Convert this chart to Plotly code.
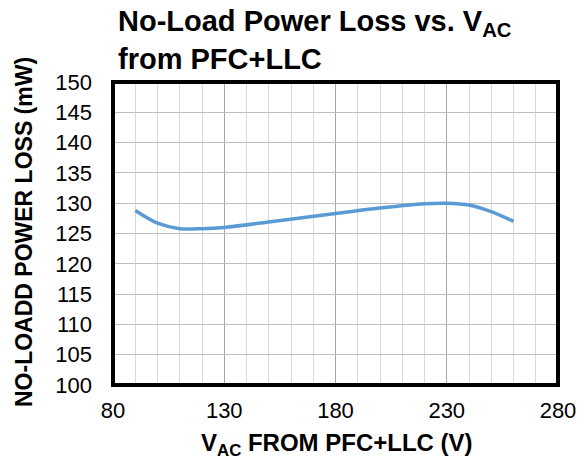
import plotly.graph_objects as go

vac = [90, 100, 110, 120, 130, 150, 180, 200, 220, 230, 240, 250, 260]
loss = [128.8, 126.7, 125.8, 125.8, 126.0, 126.9, 128.3, 129.2, 129.9, 130.0, 129.7, 128.6, 127.0]

x_ticks = [80, 130, 180, 230, 280]
y_ticks = list(range(100, 151, 5))

title_text = "<b>No-Load Power Loss vs. V<sub>AC</sub><br>from PFC+LLC</b>"
x_title = "<b>V<sub>AC</sub> FROM PFC+LLC (V)</b>"
y_title = "<b>NO-LOADD POWER LOSS (mW)</b>"

fig = go.Figure()
fig.add_trace(go.Scatter(x=vac, y=loss, mode="lines",
                         line=dict(color="#5B9BD5", width=3.5, shape="spline", smoothing=0.8),
                         showlegend=False, hoverinfo="skip"))

font = "Liberation Sans, Arial, sans-serif"
OFF = 8  # default page body margin
W, H = 584 - OFF, 462 - OFF
L, T = 113 - OFF, 82 - OFF
R, B = 584 - 558, 462 - 385
pw, ph = W - L - R, H - T - B


def px(xp):
    return (xp - OFF - L) / pw


def py(yp):
    return 1 - (yp - OFF - T) / ph


fig.update_layout(
    width=W, height=H,
    margin=dict(l=L, r=R, t=T, b=B, autoexpand=False),
    paper_bgcolor="white", plot_bgcolor="white",
    font=dict(family=font, color="black"),
    xaxis=dict(range=[80, 280], tickvals=x_ticks, ticks="", showline=False, zeroline=False,
               automargin=False,
               showgrid=True, gridcolor="#A6A6A6", gridwidth=1,
               minor=dict(dtick=10, tick0=80, showgrid=True, gridcolor="#D9D9D9", gridwidth=1),
               tickfont=dict(size=22), ticklabelstandoff=10),
    yaxis=dict(range=[100, 150], tickvals=y_ticks, ticks="", showline=False, zeroline=False,
               automargin=False,
               showgrid=True, gridcolor="#BFBFBF", gridwidth=1,
               tickfont=dict(size=22), ticklabelstandoff=20),
    shapes=[dict(type="rect", xref="paper", yref="paper", x0=0, x1=1, y0=0, y1=1,
                 line=dict(color="black", width=4), fillcolor="rgba(0,0,0,0)", layer="above")],
    annotations=[
        dict(text=title_text, xref="paper", yref="paper", x=px(116), y=py(3),
             xanchor="left", yanchor="top", align="left", showarrow=False,
             font=dict(size=29, family=font, color="black")),
        dict(text=x_title, xref="paper", yref="paper", x=px(337), y=py(444),
             xanchor="center", yanchor="middle", showarrow=False,
             font=dict(size=24, family=font, color="black")),
        dict(text=y_title, xref="paper", yref="paper", x=px(24), y=py(232),
             xanchor="center", yanchor="middle", textangle=-90, showarrow=False,
             font=dict(size=23, family=font, color="black")),
    ],
)

fig.write_html("out.html")
